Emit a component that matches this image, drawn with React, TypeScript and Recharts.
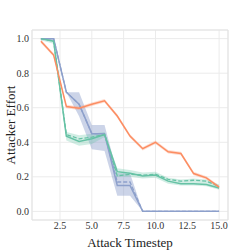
import React from 'react';
import { ComposedChart, Line, Area, XAxis, YAxis, CartesianGrid, ReferenceArea } from 'recharts';

const steps = [1, 2, 3, 4, 5, 6, 7, 8, 9, 10, 11, 12, 13, 14, 15];

const blueMean = [1.0, 1.0, 0.69, 0.62, 0.45, 0.45, 0.15, 0.15, 0, 0, 0, 0, 0, 0, 0];
const blueMedian = [1.0, 1.0, 0.69, 0.62, 0.45, 0.45, 0.17, 0.17, 0, 0, 0, 0, 0, 0, 0];
const blueLow = [0.99, 0.99, 0.69, 0.55, 0.36, 0.35, 0.09, 0.09, 0, 0, 0, 0, 0, 0, 0];
const blueHigh = [1.0, 1.0, 0.69, 0.69, 0.5, 0.5, 0.22, 0.22, 0, 0, 0, 0, 0, 0, 0];

const greenMean = [1.0, 0.985, 0.435, 0.405, 0.42, 0.445, 0.23, 0.22, 0.205, 0.21, 0.175, 0.16, 0.16, 0.155, 0.135];
const greenMedian = [1.0, 0.985, 0.445, 0.42, 0.43, 0.445, 0.205, 0.215, 0.21, 0.215, 0.185, 0.175, 0.18, 0.175, 0.145];
const greenLow = [0.99, 0.97, 0.41, 0.38, 0.39, 0.43, 0.2, 0.2, 0.19, 0.195, 0.16, 0.15, 0.15, 0.145, 0.125];
const greenHigh = [1.0, 0.99, 0.46, 0.44, 0.45, 0.46, 0.25, 0.24, 0.225, 0.23, 0.195, 0.185, 0.19, 0.185, 0.155];

const orangeMean = [0.985, 0.905, 0.607, 0.597, 0.62, 0.64, 0.552, 0.436, 0.363, 0.4, 0.345, 0.335, 0.219, 0.194, 0.14];
const orangeLow = [0.975, 0.895, 0.597, 0.587, 0.61, 0.63, 0.542, 0.426, 0.353, 0.39, 0.335, 0.325, 0.209, 0.184, 0.13];
const orangeHigh = [0.995, 0.915, 0.617, 0.607, 0.63, 0.65, 0.562, 0.446, 0.373, 0.41, 0.355, 0.345, 0.229, 0.204, 0.15];

const xTicks = [2.5, 5.0, 7.5, 10.0, 12.5, 15.0];
const yTicks = [0, 0.2, 0.4, 0.6, 0.8, 1.0];

const data = steps.map((s, i) => ({
  step: s,
  blueMean: blueMean[i],
  blueMedian: blueMedian[i],
  blueBand: [blueLow[i], blueHigh[i]],
  greenMean: greenMean[i],
  greenMedian: greenMedian[i],
  greenBand: [greenLow[i], greenHigh[i]],
  orangeMean: orangeMean[i],
  orangeBand: [orangeLow[i], orangeHigh[i]],
}));

const BLUE = '#8da0cb';
const GREEN = '#66c2a5';
const ORANGE = '#fc8d62';
const FONT = 'Liberation Serif, DejaVu Serif, serif';

export default function App() {
  const tickStyle = { fill: '#333', fontSize: 10, fontFamily: FONT };
  return (
    <div style={{ position: 'absolute', left: 0, top: 0, fontFamily: FONT }}>
      <ComposedChart width={240} height={252} data={data} margin={{ top: 30, right: 12, bottom: 0, left: 0 }} style={{ fontFamily: FONT }}>
        <CartesianGrid stroke="#ebebeb" strokeWidth={1} />
        <ReferenceArea x1={0.3} x2={15.7} y1={-0.05} y2={1.05} fill="none" stroke="#e3e3e3" ifOverflow="visible" />
        <XAxis
          dataKey="step"
          type="number"
          domain={[0.3, 15.7]}
          ticks={xTicks}
          allowDataOverflow
          tickFormatter={(v: number) => v.toFixed(1)}
          tick={tickStyle}
          tickLine={false}
          axisLine={false}
          tickSize={2}
          tickMargin={0}
          height={32}
          label={{ value: 'Attack Timestep', position: 'insideBottom', offset: 5, fill: '#222', fontSize: 13, fontFamily: FONT }}
        />
        <YAxis
          type="number"
          domain={[-0.05, 1.05]}
          ticks={yTicks}
          allowDataOverflow
          tickFormatter={(v: number) => v.toFixed(1)}
          tick={tickStyle}
          tickLine={false}
          axisLine={false}
          tickSize={3}
          tickMargin={0}
          width={32}
          label={{ value: 'Attacker Effort', angle: -90, position: 'insideLeft', offset: 10, textAnchor: 'middle', fill: '#222', fontSize: 13, fontFamily: FONT }}
        />
        <Area type="linear" dataKey="blueBand" stroke="none" fill={BLUE} fillOpacity={0.45} isAnimationActive={false} />
        <Area type="linear" dataKey="greenBand" stroke="none" fill={GREEN} fillOpacity={0.3} isAnimationActive={false} />
        <Area type="linear" dataKey="orangeBand" stroke="none" fill={ORANGE} fillOpacity={0.3} isAnimationActive={false} />
        <Line type="linear" dataKey="blueMedian" stroke={BLUE} strokeWidth={1.3} strokeDasharray="4 2" dot={false} isAnimationActive={false} />
        <Line type="linear" dataKey="greenMedian" stroke={GREEN} strokeWidth={1.3} strokeDasharray="4 2" dot={false} isAnimationActive={false} />
        <Line type="linear" dataKey="blueMean" stroke={BLUE} strokeWidth={1.5} dot={false} isAnimationActive={false} />
        <Line type="linear" dataKey="greenMean" stroke={GREEN} strokeWidth={1.5} dot={false} isAnimationActive={false} />
        <Line type="linear" dataKey="orangeMean" stroke={ORANGE} strokeWidth={1.5} dot={false} isAnimationActive={false} />
      </ComposedChart>
    </div>
  );
}
